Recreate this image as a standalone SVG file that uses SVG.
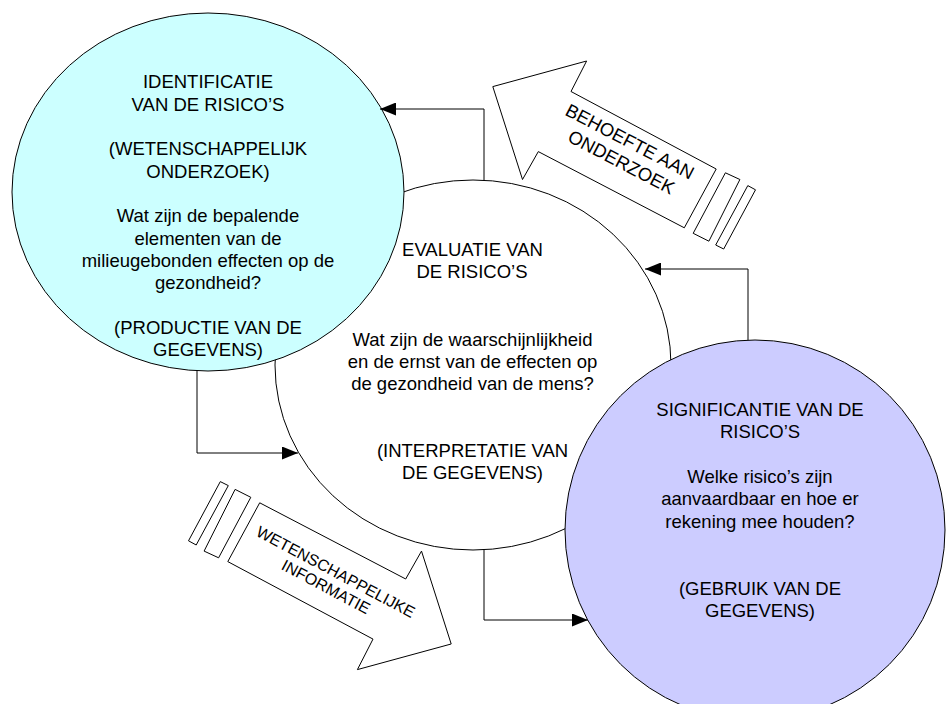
<svg xmlns="http://www.w3.org/2000/svg" width="946" height="704" viewBox="0 0 946 704">
<style>
  .t { font-family: "Liberation Sans", Arial, sans-serif; font-size: 18.5px; fill: #000; text-anchor: middle; }
  .ts { font-family: "Liberation Sans", Arial, sans-serif; font-size: 16px; fill: #000; text-anchor: middle; }
  .node { stroke: #000; stroke-width: 1; }
  .blk { fill: #fff; stroke: #000; stroke-width: 1; stroke-linejoin: miter; }
  .con { fill: none; stroke: #000; stroke-width: 1; }
</style>
<defs>
  <marker id="ah" markerUnits="userSpaceOnUse" markerWidth="16" markerHeight="13" refX="16" refY="6.5" orient="auto">
    <path d="M0,0 L16,6.5 L0,13 z" fill="#000"/>
  </marker>
  <g id="blockArrow">
    <polygon class="blk" points="492.8,86.6 586.6,61 571,91.5 716.2,169 684.3,227.8 538.3,151.6 522.5,179.5"/>
    <polygon class="blk" points="725.4,172.8 739.9,179.5 708.9,241.2 693.2,233.3"/>
    <polygon class="blk" points="747.8,185.6 755.5,189.8 723.7,249 715.7,245"/>
  </g>
</defs>
<rect width="946" height="704" fill="#fff"/>

<g id="evaluatie">
  <ellipse class="node" cx="473" cy="365" rx="198" ry="185" fill="#fff"/>
  <text class="t" x="472.5" y="256">EVALUATIE VAN</text>
  <text class="t" x="472" y="278.3">DE RISICO’S</text>
  <text class="t" x="472.5" y="345.5">Wat zijn de waarschijnlijkheid</text>
  <text class="t" x="472.5" y="367.7">en de ernst van de effecten op</text>
  <text class="t" x="472.5" y="390">de gezondheid van de mens?</text>
  <text class="t" x="472.5" y="457">(INTERPRETATIE VAN</text>
  <text class="t" x="472.5" y="479.3">DE GEGEVENS)</text>
</g>

<g id="identificatie">
  <ellipse class="node" cx="208" cy="192" rx="196" ry="179" fill="#ccffff"/>
  <text class="t" x="208" y="88.3">IDENTIFICATIE</text>
  <text class="t" x="208" y="110.7">VAN DE RISICO’S</text>
  <text class="t" x="208" y="155.3">(WETENSCHAPPELIJK</text>
  <text class="t" x="208" y="177.7">ONDERZOEK)</text>
  <text class="t" x="208" y="222.3">Wat zijn de bepalende</text>
  <text class="t" x="208" y="244.7">elementen van de</text>
  <text class="t" x="208" y="267">milieugebonden effecten op de</text>
  <text class="t" x="208" y="289.3">gezondheid?</text>
  <text class="t" x="208" y="334">(PRODUCTIE VAN DE</text>
  <text class="t" x="208" y="356.3">GEGEVENS)</text>
</g>

<g id="significantie">
  <circle class="node" cx="755" cy="530" r="190" fill="#ccccff"/>
  <text class="t" x="760" y="416">SIGNIFICANTIE VAN DE</text>
  <text class="t" x="760" y="438.3">RISICO’S</text>
  <text class="t" x="760" y="483">Welke risico’s zijn</text>
  <text class="t" x="760" y="505.3">aanvaardbaar en hoe er</text>
  <text class="t" x="760" y="527.7">rekening mee houden?</text>
  <text class="t" x="760" y="594.7">(GEBRUIK VAN DE</text>
  <text class="t" x="760" y="617">GEGEVENS)</text>
</g>

<g id="behoefte">
  <use href="#blockArrow"/>
  <g transform="translate(625.8,151.7) rotate(27.5)">
    <text class="t" x="-1" y="-4.6">BEHOEFTE AAN</text>
    <text class="t" x="1" y="17.7">ONDERZOEK</text>
  </g>
</g>

<g id="wetenschappelijke">
  <use href="#blockArrow" transform="rotate(180 472 365.3)"/>
  <g transform="translate(330.9,579.2) rotate(28)">
    <text class="ts" x="0.8" y="-3.2">WETENSCHAPPELIJKE</text>
    <text class="ts" x="-0.8" y="14.6">INFORMATIE</text>
  </g>
</g>

<g id="connectors">
  <path class="con" d="M484,180 V109 H380" marker-end="url(#ah)"/>
  <path class="con" d="M197,371 V453 H298" marker-end="url(#ah)"/>
  <path class="con" d="M484,550 V620 H588" marker-end="url(#ah)"/>
  <path class="con" d="M748,340 V269 H645" marker-end="url(#ah)"/>
</g>
</svg>
